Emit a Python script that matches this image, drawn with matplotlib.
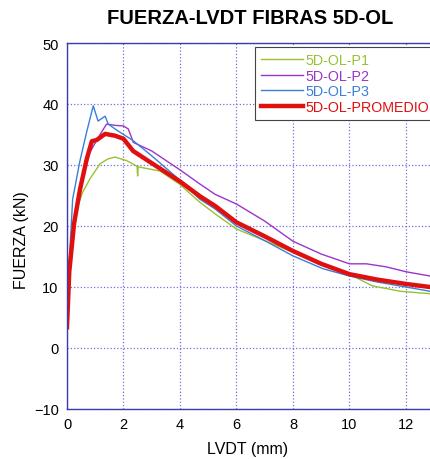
import numpy as np
import matplotlib.pyplot as plt

plt.rcParams['font.family'] = ['Liberation Sans', 'DejaVu Sans']

# curvas fuerza - desplazamiento
x_p1 = [0.0, 0.1, 0.25, 0.35, 0.55, 0.81, 1.17, 1.45, 1.7, 2.12, 2.48, 2.5, 2.52, 3.3, 4.0, 4.7, 5.24, 6.0, 7.0, 8.0, 9.0, 10.0, 10.8, 11.8, 12.85]
y_p1 = [3.0, 12.0, 20.5, 22.8, 25.5, 27.7, 30.2, 31.0, 31.3, 30.7, 29.8, 28.2, 29.7, 29.0, 26.8, 23.9, 22.0, 19.5, 17.6, 15.7, 13.8, 12.1, 10.2, 9.3, 8.9]

x_p2 = [0.0, 0.1, 0.25, 0.5, 0.8, 1.17, 1.4, 1.7, 2.0, 2.17, 2.35, 3.0, 4.0, 4.7, 5.24, 6.0, 7.0, 8.0, 9.0, 10.0, 10.6, 11.3, 12.0, 12.85]
y_p2 = [3.5, 13.0, 21.0, 27.0, 32.0, 35.0, 36.7, 36.5, 36.4, 35.9, 33.7, 32.3, 29.2, 26.9, 25.2, 23.6, 20.8, 17.5, 15.4, 13.8, 13.8, 13.3, 12.5, 11.8]

x_p3 = [0.0, 0.08, 0.2, 0.45, 0.7, 0.93, 1.1, 1.35, 1.46, 1.8, 2.34, 3.0, 4.0, 4.7, 5.24, 6.0, 7.0, 8.0, 9.06, 10.0, 11.0, 12.0, 12.85]
y_p3 = [3.0, 14.0, 24.4, 30.5, 35.5, 39.7, 37.2, 38.0, 36.7, 35.6, 34.0, 31.5, 27.5, 24.4, 22.8, 20.0, 17.6, 15.1, 13.0, 11.8, 10.8, 10.0, 9.3]

x_prom = [0.0, 0.08, 0.25, 0.46, 0.7, 0.88, 1.05, 1.35, 1.7, 2.0, 2.34, 3.0, 4.0, 4.7, 5.24, 6.0, 7.0, 8.0, 9.0, 10.0, 11.0, 12.0, 12.85]
y_prom = [3.4, 12.5, 20.4, 26.0, 31.0, 33.9, 34.1, 35.1, 34.8, 34.3, 32.3, 30.3, 27.3, 24.9, 23.3, 20.6, 18.3, 15.9, 13.8, 12.1, 11.2, 10.5, 10.0]

fig = plt.figure(figsize=(4.3, 4.6), dpi=100)
ax = fig.add_axes([67/430, 1 - 410/460, 1 - 67/430, (410 - 44)/460])

frame = '#3b3bb3'
l1, = ax.plot(x_p1, y_p1, color='#9ac131', lw=1.0, label='5D-OL-P1')
l2, = ax.plot(x_p2, y_p2, color='#9b35c9', lw=1.0, label='5D-OL-P2')
l3, = ax.plot(x_p3, y_p3, color='#3a7fd8', lw=1.0, label='5D-OL-P3')
l4, = ax.plot(x_prom, y_prom, color='#e01010', lw=3.2, label='5D-OL-PROMEDIO')

ax.set_xlim(0, 12.85)
ax.set_ylim(-10, 50)
ax.set_xticks(np.arange(0, 13, 2))
ax.set_yticks(np.arange(-10, 51, 10))
ax.grid(True, color='#7070dd', linestyle=':', lw=0.9)
ax.tick_params(length=0, labelsize=10.5, pad=6)
for s in ['left', 'bottom', 'top']:
    ax.spines[s].set_color(frame)
    ax.spines[s].set_linewidth(1.0)
ax.spines['right'].set_visible(False)

fig.text(250/430, 1 - 18/460, 'FUERZA-LVDT FIBRAS 5D-OL', ha='center', va='center',
         fontsize=14.5, fontweight='bold')
fig.text(22/430, 1 - 240/460, 'FUERZA (kN)', ha='center', va='center', rotation=90, fontsize=11.5)
fig.text(248/430, 1 - 450/460, 'LVDT (mm)', ha='center', va='center', fontsize=11.5)

# la leyenda sale por el borde derecho, como en la imagen recortada
leg = fig.legend(handles=[l1, l2, l3, l4], loc='upper left', mode='expand',
                 bbox_to_anchor=(255/430, 1 - 122/460, 200/430, 74/460), fontsize=10.3,
                 handlelength=2.9, handletextpad=0.2, labelspacing=0.1,
                 borderpad=0.45, borderaxespad=0, fancybox=False, framealpha=1)
leg.get_frame().set_edgecolor('#444444')
leg.get_frame().set_linewidth(0.8)
for t, l in zip(leg.get_texts(), [l1, l2, l3, l4]):
    t.set_color(l.get_color())

fig.savefig('out.png', dpi=100)
